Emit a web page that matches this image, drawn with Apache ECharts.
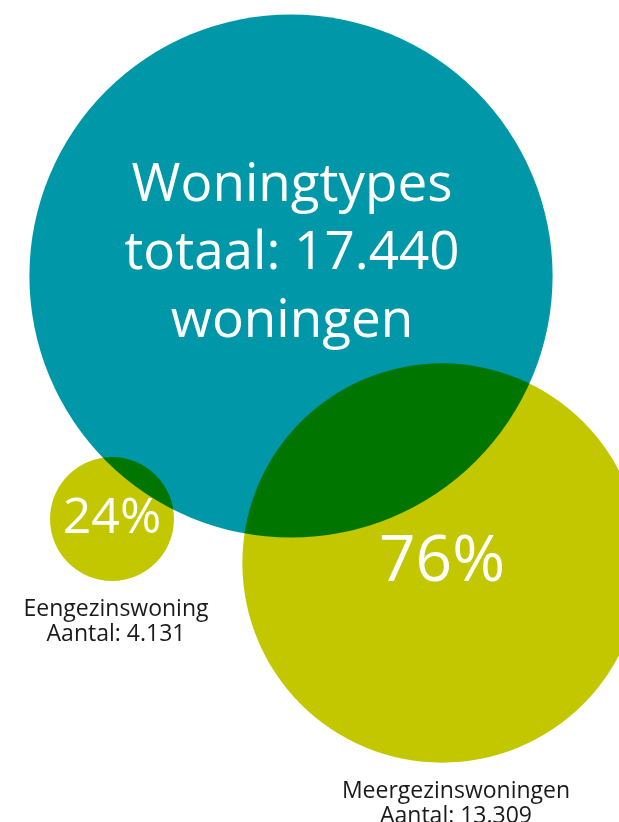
<!DOCTYPE html>
<html>
<head>
<meta charset="utf-8">
<script src="https://cdn.jsdelivr.net/npm/echarts@6/dist/echarts.min.js"></script>
<style>
html,body{margin:0;padding:0;background:#fff;}
#c{width:619px;height:822px;}
</style>
</head>
<body>
<div id="c"></div>
<script>
// Data
const categories = ['Eengezinswoning', 'Meergezinswoningen'];
const counts = [4131, 13309];
const total = 17440;
const percents = ['24%', '76%'];
const totalLabel = ['Woningtypes', 'totaal: 17.440', 'woningen'];
const countLabels = ['4.131', '13.309'];
// layout (bubble centres in pixel space)
const totalPos = [291, 276];
const catX = [112, 442];
const catY = [519, 563];

const SIZE_PER_UNIT = 0.0300; // bubble diameter per woning
const FONT = '"Open Sans", "Noto Sans", sans-serif';
const pctFont = [50, 64];
const captionShift = [4, 14];

const chart = echarts.init(document.getElementById('c'), null, {renderer: 'canvas'});

const catData = categories.map((c, i) => ({
  name: c, value: [catX[i], catY[i], counts[i]],
  label: {offset: [captionShift[i], 0]}
}));
const pctData = categories.map((c, i) => ({
  name: c, value: [catX[i], catY[i], counts[i]],
  label: {fontSize: pctFont[i]}
}));

chart.setOption({
  animation: false,
  grid: {left: 0, right: 0, top: 0, bottom: 0},
  xAxis: {type: 'value', min: 0, max: 619, show: false},
  yAxis: {type: 'value', min: 0, max: 822, inverse: true, show: false},
  series: [
    {
      type: 'scatter', clip: false, z: 1,
      symbolSize: v => v[2] * SIZE_PER_UNIT,
      itemStyle: {color: '#0097A8', opacity: 1},
      data: [{value: [totalPos[0], totalPos[1], total]}],
      label: {
        show: true, position: 'inside', offset: [1, -22],
        formatter: totalLabel.join('\n'),
        color: '#fff', fontFamily: FONT, fontSize: 53, lineHeight: 68
      },
      emphasis: {disabled: true}
    },
    {
      type: 'scatter', clip: false, z: 2,
      blendMode: 'multiply',
      symbolSize: v => v[2] * SIZE_PER_UNIT,
      itemStyle: {color: '#C3C700', opacity: 1},
      data: catData,
      label: {
        show: true, position: 'bottom', distance: 16,
        formatter: p => p.name + '\nAantal: ' + countLabels[p.dataIndex],
        color: '#1a1a1a', fontFamily: FONT, fontSize: 23, lineHeight: 25, align: 'center'
      },
      emphasis: {disabled: true}
    },
    {
      type: 'scatter', clip: false, z: 3,
      symbolSize: 1,
      itemStyle: {color: 'rgba(0,0,0,0)', opacity: 1},
      data: pctData,
      label: {
        show: true, position: 'inside',
        formatter: p => percents[p.dataIndex],
        color: '#ffffff', fontFamily: FONT, opacity: 1
      },
      emphasis: {disabled: true}
    }
  ]
});
</script>
</body>
</html>
